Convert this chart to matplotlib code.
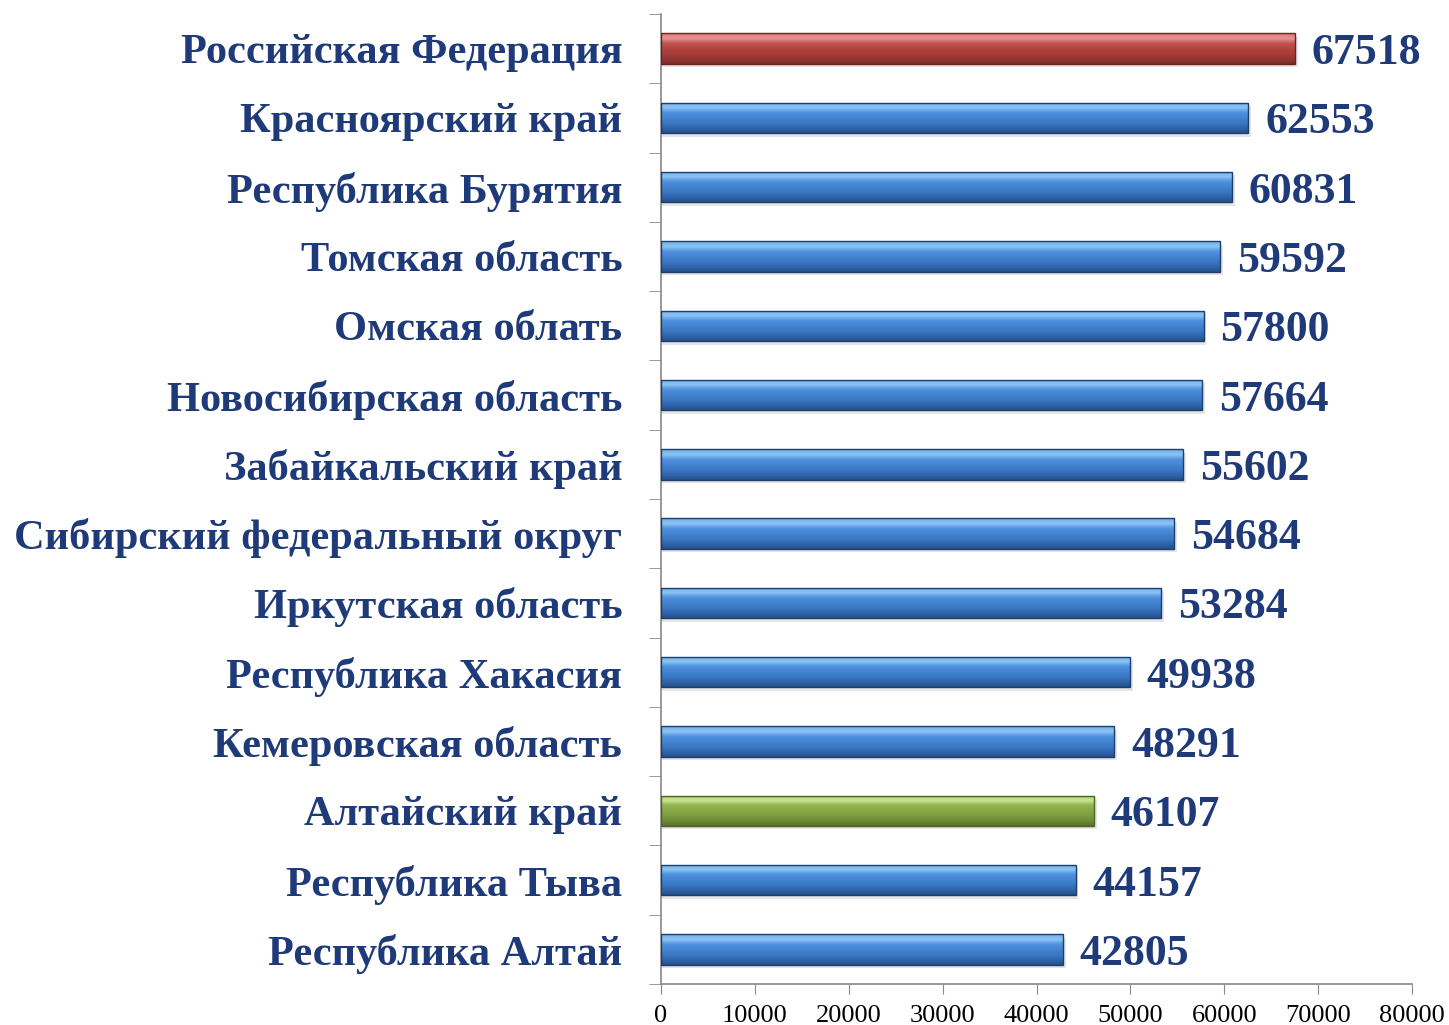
import numpy as np
import matplotlib
matplotlib.use("Agg")
import matplotlib.pyplot as plt
from matplotlib.colors import LinearSegmentedColormap

categories = ["Российская Федерация", "Красноярский край", "Республика Бурятия",
              "Томская область", "Омская облать", "Новосибирская область",
              "Забайкальский край", "Сибирский федеральный округ", "Иркутская область",
              "Республика Хакасия", "Кемеровская область", "Алтайский край",
              "Республика Тыва", "Республика Алтай"]
values = [67518, 62553, 60831, 59592, 57800, 57664, 55602, 54684, 53284,
          49938, 48291, 46107, 44157, 42805]
bar_kind = ["red", "blue", "blue", "blue", "blue", "blue", "blue", "blue", "blue",
            "blue", "blue", "green", "blue", "blue"]
xticks = [0, 10000, 20000, 30000, 40000, 50000, 60000, 70000, 80000]

# gradient stops, bottom -> top
grads = {
    "blue": ["#24508A", "#2F66AC", "#3B78C4", "#4484D2", "#4F92DE", "#8CC4F4", "#6FAEEB"],
    "red": ["#7E2C2A", "#963633", "#A73D3A", "#B5443F", "#C05350", "#E69592", "#D77572"],
    "green": ["#5A722C", "#6E8B37", "#7D9B40", "#88A849", "#93B452", "#C8E58F", "#AACC6C"],
}
edges = {"blue": "#1E3F6C", "red": "#6E2220", "green": "#4E6326"}
text_color = "#1F3A78"

fig = plt.figure(figsize=(14.49, 10.25), dpi=100)
ax = fig.add_axes([0.4562, 0.04, 0.9745 - 0.4562, 0.9863 - 0.04])

n = len(categories)
ypos = np.arange(n)[::-1]
h = 0.44
bars = ax.barh(ypos, values, height=h, color="none", edgecolor="none", zorder=2)

for bar, kind, v in zip(bars, bar_kind, values):
    x0, y0 = bar.get_x(), bar.get_y()
    w, hh = bar.get_width(), bar.get_height()
    # shadow
    ax.barh(y0 + hh / 2 - 0.05, w + 300, height=hh, left=x0, color="#000000",
            alpha=0.10, zorder=1, linewidth=0)
    cmap = LinearSegmentedColormap.from_list(kind, grads[kind])
    grad = np.linspace(0, 1, 64).reshape(-1, 1)
    im = ax.imshow(grad, cmap=cmap, extent=(x0, x0 + w, y0, y0 + hh),
                   origin="lower", aspect="auto", zorder=3, interpolation="bilinear")
    im.set_clip_path(bar)
    ax.barh(y0 + hh / 2, w, height=hh, left=x0, color="none",
            edgecolor=edges[kind], linewidth=1.0, zorder=4)
    ax.text(v + 1800, y0 + hh / 2, f"{v}", va="center_baseline", ha="left",
            fontsize=31.5, fontweight="bold", color=text_color,
            family="Liberation Serif", zorder=5)

ax.set_xlim(0, 80000)
ax.set_ylim(-0.5, n - 0.5)
ax.set_xticks(xticks)
ax.set_xticklabels([str(t) for t in xticks], family="Liberation Serif", fontsize=19)
ax.tick_params(axis="x", direction="out", length=7, color="#888888", pad=8)

ax.set_yticks(ypos)
ax.set_yticklabels(categories, family="Liberation Serif", fontsize=30.5,
                   fontweight="bold", color=text_color, va="center_baseline")
ax.tick_params(axis="y", which="major", length=0, pad=28)
ax.set_yticks(np.arange(n + 1) - 0.5, minor=True)
ax.tick_params(axis="y", which="minor", length=9, color="#888888", direction="out")

for s in ["top", "right"]:
    ax.spines[s].set_visible(False)
for s in ["left", "bottom"]:
    ax.spines[s].set_color("#888888")
    ax.spines[s].set_linewidth(1.2)

fig.savefig("out.png", dpi=100)
